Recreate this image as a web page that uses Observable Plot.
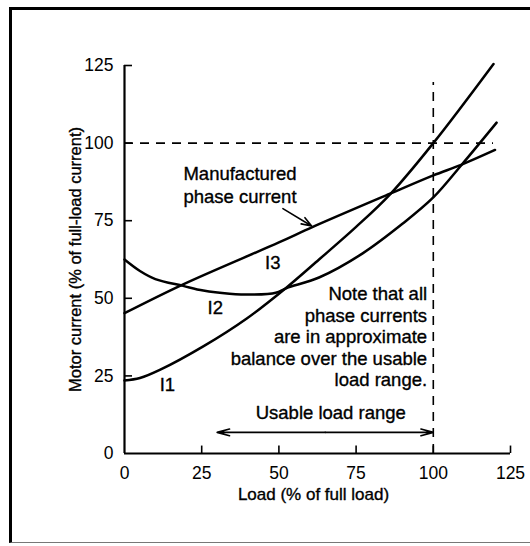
<!DOCTYPE html>
<html>
<head>
<meta charset="utf-8">
<script src="https://cdn.jsdelivr.net/npm/d3@7"></script>
<script src="https://cdn.jsdelivr.net/npm/@observablehq/plot@0.6"></script>
<style>
  html, body { margin: 0; padding: 0; background: #fff; }
  #wrap { position: relative; width: 530px; height: 546px; overflow: hidden; }
  #border { position: absolute; left: 9px; top: 7px; width: 540px; height: 536px;
            border-left: 3px solid #000; border-top: 3px solid #000; border-bottom: 1px solid #777;
            box-sizing: border-box; pointer-events: none; }
  #chart { position: absolute; left: 0; top: 0; }
</style>
</head>
<body>
<div id="wrap"><div id="chart"></div><div id="border"></div></div>
<script>
// ---- data ----
const xTicks = [0, 25, 50, 75, 100, 125];
const yTicks = [0, 25, 50, 75, 100, 125];

const i1Load  = [0, 5, 11.6, 25.5, 39.6, 52.5, 63, 75, 86, 100, 119.5];
const i1Value = [23.5, 24.3, 27, 34.5, 43.5, 53.5, 62.5, 73, 83.5, 100, 125.5];

const i2Load  = [0, 5, 10, 19, 25.5, 34, 42, 49, 52.5, 63, 77, 90, 100, 109, 120.5];
const i2Value = [62.5, 58.8, 56.2, 54, 52.5, 51.5, 51.2, 51.8, 53.3, 56.7, 64.4, 74, 82.5, 92.8, 106.6];

const i3Load  = [0, 19, 50, 61, 86, 100, 109, 120];
const i3Value = [45.2, 54.5, 68, 73, 83.7, 89.6, 93, 97.8];

const ratedCurrent = 100;   // % of full-load current (dashed)
const ratedLoad = 100;      // % of full load (dashed)
const dashEnd = 119.5;
const usableRange = [30, 100];

const curveLabels = [
  {x: 48, y: 61.5, text: "I3"},
  {x: 29.4, y: 47, text: "I2"},
  {x: 13.9, y: 21.9, text: "I1"},
  {x: 66.8, y: 12.9, text: "Usable load range"}
];
const manufLabel = {x: 37.4, y: 86.8, text: "Manufactured\nphase current"};
const noteLabel = {x: 98, y: 37.7, text: "Note that all\nphase currents\nare in approximate\nbalance over the usable\nload range."};
const pointer = {x1: 51.3, y1: 78.9, x2: 60.6, y2: 73.3};

const xLabel = "Load (% of full load)";
const yLabel = "Motor current (% of full-load current)";

// ---- build ----
const series = (xs, ys, name) => xs.map((x, i) => ({load: x, value: ys[i], name}));
const curves = [...series(i1Load, i1Value, "I1"), ...series(i2Load, i2Value, "I2"), ...series(i3Load, i3Value, "I3")];

const font = "'Liberation Sans', Arial, Helvetica, sans-serif";
const mid = (usableRange[0] + usableRange[1]) / 2;
const arrowY = 6.8;
const ink = {fill: "#000", stroke: "#000", strokeWidth: 0.35};

const plot = Plot.plot({
  width: 530,
  height: 546,
  marginLeft: 124,
  marginRight: 20,
  marginTop: 65,
  marginBottom: 93,
  x: {domain: [0, 125]},
  y: {domain: [0, 125]},
  style: {fontFamily: font, background: "transparent", color: "#000"},
  marks: [
    // dashed reference lines
    Plot.ruleY([ratedCurrent], {x1: 0, x2: dashEnd, stroke: "#000", strokeWidth: 1.6, strokeDasharray: "9,7"}),
    Plot.ruleX([ratedLoad], {y1: 0, y2: dashEnd, stroke: "#000", strokeWidth: 1.6, strokeDasharray: "9,7"}),
    // axis lines
    Plot.ruleY([0], {x1: 0, x2: 125, stroke: "#000", strokeWidth: 2.2}),
    Plot.ruleX([0], {y1: 0, y2: 125, stroke: "#000", strokeWidth: 2.2}),
    // inward ticks
    Plot.ruleX(xTicks.slice(1), {x: d => d, y1: 0, y2: 2.4, stroke: "#000", strokeWidth: 1.6}),
    Plot.ruleY(yTicks.slice(1), {y: d => d, x1: 0, x2: 2.6, stroke: "#000", strokeWidth: 1.6}),
    // tick labels
    Plot.axisX({ticks: xTicks, tickSize: 0, tickPadding: 13, fontSize: 17.5, label: null, ...ink}),
    Plot.axisY({ticks: yTicks, tickSize: 0, tickPadding: 11, fontSize: 17.5, label: null, ...ink}),
    // axis titles
    Plot.text([xLabel], {frameAnchor: "bottom", dx: -4, dy: 41, text: d => d, fontSize: 17, lineAnchor: "middle", textAnchor: "middle", ...ink}),
    Plot.text([yLabel], {frameAnchor: "left", dx: -49, rotate: -90, text: d => d, fontSize: 16.5, lineAnchor: "middle", textAnchor: "middle", ...ink}),
    // curves
    Plot.line(curves, {x: "load", y: "value", z: "name", curve: "catmull-rom", stroke: "#000", strokeWidth: 2.5}),
    // annotations
    Plot.text(curveLabels, {x: "x", y: "y", text: "text", textAnchor: "middle", fontSize: 18.5, lineAnchor: "middle", ...ink}),
    Plot.text([manufLabel], {x: "x", y: "y", text: "text", textAnchor: "middle", lineHeight: 1.24, fontSize: 18.5, lineAnchor: "middle", ...ink}),
    Plot.text([noteLabel], {x: "x", y: "y", text: "text", textAnchor: "end", lineHeight: 1.16, fontSize: 18.5, lineAnchor: "middle", ...ink}),
    Plot.arrow([pointer], {x1: "x1", y1: "y1", x2: "x2", y2: "y2", stroke: "#000", strokeWidth: 1.6, headLength: 10, headAngle: 40}),
    Plot.arrow([{a: mid, b: usableRange[0]}, {a: mid, b: usableRange[1]}], {x1: "a", x2: "b", y1: arrowY, y2: arrowY, stroke: "#000", strokeWidth: 1.6, headLength: 12, headAngle: 30})
  ]
});
document.getElementById("chart").appendChild(plot);
</script>
</body>
</html>
